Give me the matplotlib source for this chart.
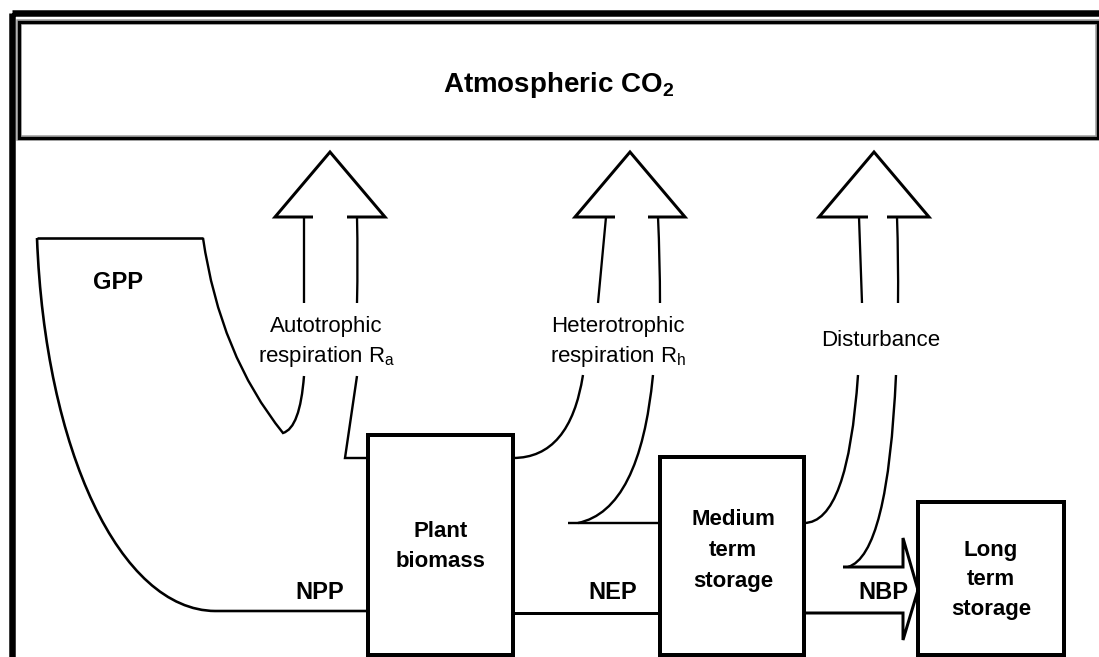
import matplotlib
matplotlib.use("Agg")
import matplotlib.pyplot as plt
from matplotlib.path import Path
from matplotlib.patches import PathPatch, Rectangle

# ---------------- content (diagram layout in pixel units) ----------------
title = r"Atmospheric CO$_\mathregular{2}$"

box_labels = [["Plant", "biomass"], ["Medium", "term", "storage"], ["Long", "term", "storage"]]
box_left = [368, 660, 918]
box_right = [513, 804, 1064]
box_top = [435, 457, 502]
box_bottom = [655, 655, 655]
box_text_x = [441, 733, 991]
box_text_base = [[537, 567], [525, 556, 587], [556, 585, 615]]

flux_labels = ["GPP", "NPP", "NEP", "NBP"]
flux_x = [118, 320, 613, 883]
flux_base = [289, 599, 599, 599]

resp_labels = [["Autotrophic", r"respiration R$_\mathregular{a}$"],
               ["Heterotrophic", r"respiration R$_\mathregular{h}$"],
               ["Disturbance"]]
resp_x = [326, 618, 881]
resp_base = [[332, 362], [332, 362], [346]]

arrow_cx = [330, 630, 874]
arrow_ls = [304, 606, 859]
arrow_rs = [357, 658, 897]
arrow_ls_low = [304, 598, 862]
arrow_rs_low = [357, 660, 898]

# ---------------- drawing ----------------
plt.rcParams["font.family"] = ["Liberation Sans", "DejaVu Sans"]
plt.rcParams["mathtext.fontset"] = "custom"
plt.rcParams["mathtext.rm"] = "Liberation Sans"
PX = 72 / 100.0

fig = plt.figure(figsize=(10.99, 6.57), dpi=100)
ax = fig.add_axes([0, 0, 1, 1])
ax.set_xlim(0, 1099)
ax.set_ylim(657, 0)
ax.axis("off")

M, L, C3, C4 = Path.MOVETO, Path.LINETO, Path.CURVE3, Path.CURVE4


def draw(verts, codes, lw, color="black"):
    ax.add_patch(PathPatch(Path(verts, codes), fill=False, lw=lw * PX, ec=color,
                           capstyle="butt", joinstyle="miter"))


# outer frame
ax.add_patch(Rectangle((12, 13.3), 1300, 900, fill=False, lw=6.5 * PX, ec="black", clip_on=False))
# atmospheric box
ax.add_patch(Rectangle((19, 21.5), 1079, 116.5, fill=False, lw=5.5 * PX, ec="#9a9a9a"))
ax.add_patch(Rectangle((19, 21.5), 1079, 116.5, fill=False, lw=3.2 * PX, ec="black"))
ax.text(559, 92, title, fontsize=20, fontweight="bold", ha="center", va="baseline")

# boxes
for lab, x0, x1, y0, y1, tx, tb in zip(box_labels, box_left, box_right, box_top, box_bottom,
                                         box_text_x, box_text_base):
    ax.add_patch(Rectangle((x0, y0), x1 - x0, y1 - y0, fill=False, lw=4 * PX, ec="black"))
    for line, b in zip(lab, tb):
        ax.text(tx, b, line, fontsize=16, fontweight="bold", ha="center", va="baseline")

# arrow heads and upper shafts
for cx, ls, rs, lsl, rsl in zip(arrow_cx, arrow_ls, arrow_rs, arrow_ls_low, arrow_rs_low):
    draw([(ls + 9, 217), (cx - 55, 217), (cx, 152), (cx + 55, 217), (rs - 10, 217)],
         [M, L, L, L, L], 3.0)
    draw([(ls, 217), (lsl, 303)], [M, L], 2.3)
    draw([(rs, 217), ((rs + rsl) / 2 + 1, 260), (rsl, 303)], [M, C3, C3], 2.3)

# GPP shape
draw([(37, 238), (203, 238)], [M, L], 2.6)
draw([(37, 238), (45, 450), (120, 610), (215, 611), (368, 611)], [M, C4, C4, C4, L], 2.6)
draw([(203, 238), (220, 355), (283, 433), (300, 428), (304, 376)], [M, C3, C3, C3, C3], 2.4)
# autotrophic right shaft into plant biomass
draw([(357, 376), (345, 458), (368, 458)], [M, L, L], 2.4)

# heterotrophic
draw([(583, 375), (570, 458), (513, 458)], [M, C3, C3], 2.4)
draw([(653, 375), (640, 510), (578, 523)], [M, C3, C3], 2.4)
draw([(568, 523), (660, 523)], [M, L], 2.4)
# NEP line
draw([(513, 613), (660, 613)], [M, L], 3.0)

# disturbance
draw([(858, 375), (848, 523), (804, 523)], [M, C3, C3], 2.4)
draw([(896, 375), (888, 555), (848, 567)], [M, C3, C3], 2.4)
# NBP arrow
draw([(843, 567), (903, 567), (903, 538), (918, 590), (903, 640), (903, 613), (804, 613)],
     [M, L, L, L, L, L, L], 3.0)

# labels
for lab, x, b in zip(flux_labels, flux_x, flux_base):
    ax.text(x, b, lab, fontsize=17, fontweight="bold", ha="center", va="baseline")
for lab, x, bs in zip(resp_labels, resp_x, resp_base):
    for line, b in zip(lab, bs):
        ax.text(x, b, line, fontsize=16, ha="center", va="baseline")

fig.savefig("out.png", dpi=100)
